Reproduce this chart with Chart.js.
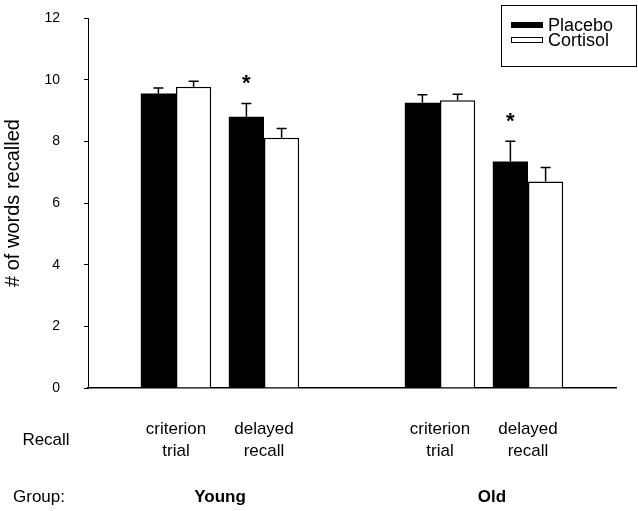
<!DOCTYPE html>
<html>
<head>
<meta charset="utf-8">
<script src="https://cdn.jsdelivr.net/npm/chart.js@4"></script>
<style>
    body { margin: 0; background: #fff; }
    #wrap { width: 638px; height: 511px; position: relative; }
</style>
</head>
<body>
<div id="wrap"><canvas id="recallChart"></canvas></div>
<script>
// --- Data ---
const recallLabels = ['', ['criterion', 'trial'], ['delayed', 'recall'], '', ['criterion', 'trial'], ['delayed', 'recall'], ''];
const groupNames = ['Young', 'Old'];
const placebo = [null, 9.55, 8.8, null, 9.25, 7.35, null];
const placeboErr = [null, 0.18, 0.43, null, 0.26, 0.65, null];
const cortisol = [null, 9.77, 8.12, null, 9.33, 6.7, null];
const cortisolErr = [null, 0.18, 0.3, null, 0.2, 0.45, null];
const significant = [false, false, true, false, false, true, false];
const yTicks = [0, 2, 4, 6, 8, 10, 12];

const FONT = "'Liberation Sans', Arial, Helvetica, sans-serif";

// --- Error bars + asterisks ---
const errorBars = {
    id: 'errorBars',
    afterDatasetsDraw(chart) {
        const ctx = chart.ctx;
        const y = chart.scales.y;
        const errs = [placeboErr, cortisolErr];
        ctx.save();
        ctx.strokeStyle = '#000';
        ctx.lineWidth = 1.5;
        chart.data.datasets.forEach((ds, di) => {
            chart.getDatasetMeta(di).data.forEach((bar, i) => {
                if (ds.data[i] == null) return;
                const top = y.getPixelForValue(ds.data[i] + errs[di][i]);
                ctx.beginPath();
                ctx.moveTo(bar.x, bar.y);
                ctx.lineTo(bar.x, top);
                ctx.moveTo(bar.x - 5, top);
                ctx.lineTo(bar.x + 5, top);
                ctx.stroke();
                if (di === 0 && significant[i]) {
                    ctx.fillStyle = '#000';
                    ctx.font = 'bold 22px ' + FONT;
                    ctx.textAlign = 'center';
                    ctx.textBaseline = 'middle';
                    ctx.fillText('*', bar.x, top - 19);
                }
            });
        });
        ctx.restore();
    }
};

// --- Extra text rows + boxed legend ---
const extraText = {
    id: 'extraText',
    afterDraw(chart) {
        const ctx = chart.ctx;
        const x = chart.scales.x;
        ctx.save();
        ctx.fillStyle = '#000';
        ctx.textBaseline = 'middle';
        ctx.font = '17px ' + FONT;
        ctx.textAlign = 'center';
        ctx.fillText('Recall', 46, 440);
        ctx.textAlign = 'left';
        ctx.fillText('Group:', 13, 497);
        ctx.font = 'bold 17px ' + FONT;
        ctx.textAlign = 'center';
        ctx.fillText(groupNames[0], (x.getPixelForTick(1) + x.getPixelForTick(2)) / 2, 497);
        ctx.fillText(groupNames[1], (x.getPixelForTick(4) + x.getPixelForTick(5)) / 2 + 8, 497);

        // legend
        ctx.strokeStyle = '#000';
        ctx.lineWidth = 1;
        ctx.strokeRect(501.5, 5.5, 135, 61);
        ctx.font = '18px ' + FONT;
        ctx.textAlign = 'left';
        chart.data.datasets.forEach((ds, i) => {
            const cy = 25 + i * 15;
            ctx.fillStyle = ds.backgroundColor;
            ctx.fillRect(511, cy - 3, 32, 6);
            ctx.strokeRect(511.5, cy - 2.5, 31, 5);
            ctx.fillStyle = '#000';
            ctx.fillText(ds.label, 548, cy + 1);
        });
        ctx.restore();
    }
};

new Chart(document.getElementById('recallChart').getContext('2d'), {
    type: 'bar',
    data: {
        labels: recallLabels,
        datasets: [{
            label: 'Placebo',
            data: placebo,
            backgroundColor: '#000',
            borderColor: '#000',
            borderWidth: 0
        }, {
            label: 'Cortisol',
            data: cortisol,
            backgroundColor: '#fff',
            borderColor: '#000',
            borderWidth: 1.5
        }]
    },
    options: {
        responsive: true,
        maintainAspectRatio: false,
        animation: false,
        categoryPercentage: 0.8,
        barPercentage: 1.0,
        layout: { padding: { top: 18, right: 22, left: 0, bottom: 0 } },
        plugins: { legend: { display: false }, tooltip: { enabled: false } },
        scales: {
            x: {
                offset: false,
                grid: { display: false },
                border: { display: true, color: '#000', width: 1.5 },
                ticks: {
                    color: '#000',
                    font: { family: FONT, size: 17, lineHeight: 1.3 },
                    padding: 22,
                    maxRotation: 0,
                    autoSkip: false
                },
                afterFit: s => { s.height = 123; }
            },
            y: {
                min: 0,
                max: 12,
                afterBuildTicks: s => { s.ticks = yTicks.map(v => ({ value: v })); },
                // long tick slot, but only the 4px next to the axis is inked
                grid: { drawOnChartArea: false, drawTicks: true, tickLength: 28, color: '#000', tickBorderDash: [0, 24, 4, 100] },
                border: { display: true, color: '#000', width: 1 },
                ticks: {
                    color: '#000',
                    font: { family: FONT, size: 14 },
                    padding: 0
                },
                title: {
                    display: true,
                    text: '# of words recalled',
                    color: '#000',
                    font: { family: FONT, size: 20 },
                    padding: { top: 1, bottom: 0 }
                },
                afterFit: s => { s.width = 88; }
            }
        }
    },
    plugins: [errorBars, extraText]
});
</script>
</body>
</html>
